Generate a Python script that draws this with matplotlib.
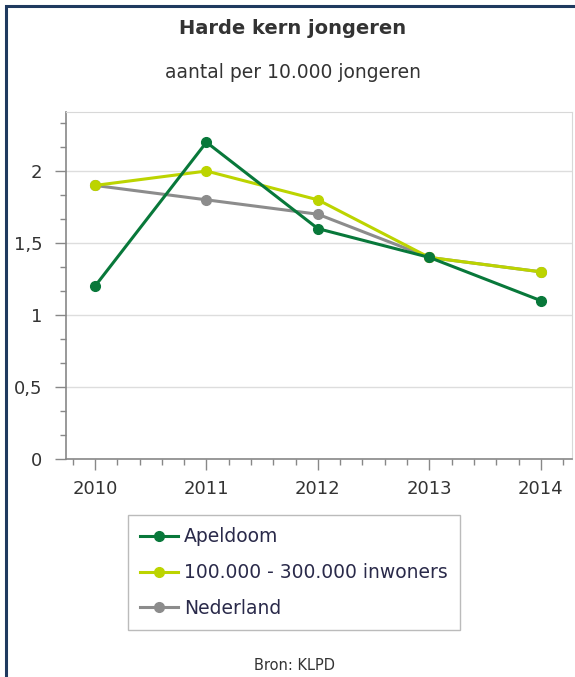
import matplotlib
matplotlib.use('Agg')
import matplotlib.pyplot as plt
from matplotlib.patches import Rectangle
from matplotlib.ticker import MultipleLocator, FuncFormatter

# data
years = [2010, 2011, 2012, 2013, 2014]
apeldoorn = [1.2, 2.2, 1.6, 1.4, 1.1]
gemeenten = [1.9, 2.0, 1.8, 1.4, 1.3]
nederland = [1.9, 1.8, 1.7, 1.4, 1.3]
labels = ["Apeldoom", "100.000 - 300.000 inwoners", "Nederland"]
colors = ["#08783a", "#bcd400", "#8c8c8c"]

W, H = 575, 677
fig = plt.figure(figsize=(W / 100, H / 100), dpi=100)
plt.rcParams['font.family'] = ['DejaVu Sans']
text_color = "#333333"

# dark outer frame (cut off at right and bottom)
fig.patches.append(Rectangle((6 / W, -0.05), 1.2, (H - 6) / H + 0.05,
                             transform=fig.transFigure, fill=False,
                             edgecolor="#1f3a5f", linewidth=2.2))

fig.text(293 / W, 1 - 28 / H, "Harde kern jongeren", ha='center', va='center',
         fontsize=14, fontweight='bold', color=text_color)
fig.text(293 / W, 1 - 72 / H, "aantal per 10.000 jongeren", ha='center', va='center',
         fontsize=13.5, color=text_color)

ax = fig.add_axes([66 / W, 1 - 459 / H, (572 - 66) / W, (459 - 112) / H])

series = [apeldoorn, gemeenten, nederland]
# draw Nederland first so greens stay on top like in the reference
order = [2, 1, 0]
handles = {}
for i in order:
    h, = ax.plot(years, series[i], color=colors[i], linewidth=2.2, marker='o',
                 markersize=7, label=labels[i])
    handles[i] = h

ax.set_xlim(2009.74, 2014.28)
ax.set_ylim(0, 2.41)

ax.xaxis.set_major_locator(MultipleLocator(1))
ax.xaxis.set_minor_locator(MultipleLocator(0.2))
ax.yaxis.set_major_locator(MultipleLocator(0.5))
ax.yaxis.set_minor_locator(MultipleLocator(1 / 6))
ax.yaxis.set_major_formatter(FuncFormatter(lambda v, p: f"{v:g}".replace('.', ',')))
ax.xaxis.set_major_formatter(FuncFormatter(lambda v, p: f"{int(round(v))}"))

ax.tick_params(axis='both', which='major', direction='out', length=8, width=1,
               color="#888888", labelsize=13, labelcolor=text_color)
ax.tick_params(axis='both', which='minor', direction='out', length=4, width=1,
               color="#888888")
ax.tick_params(axis='y', which='major', pad=9)
ax.tick_params(axis='x', which='major', pad=7)

ax.grid(axis='y', which='major', color="#dddddd", linewidth=1)
ax.set_axisbelow(True)
for side in ['top', 'right']:
    ax.spines[side].set_color("#d8d8d8")
for side in ['left', 'bottom']:
    ax.spines[side].set_color("#888888")
    ax.spines[side].set_linewidth(1.2)

leg = fig.legend([handles[0], handles[1], handles[2]], labels,
                 loc='upper left', bbox_to_anchor=(128 / W, 1 - 515 / H),
                 frameon=True, fancybox=False, fontsize=13.5,
                 handlelength=2.0, handletextpad=0.35, labelspacing=0.9,
                 borderpad=0.65, borderaxespad=0)
leg.get_frame().set_edgecolor("#aaaaaa")
leg.get_frame().set_linewidth(1)
for t in leg.get_texts():
    t.set_color("#2a2a4a")

fig.text(295 / W, 1 - 665 / H, "Bron: KLPD", ha='center', va='center',
         fontsize=10.5, color=text_color)

fig.savefig("out.png", dpi=100)
